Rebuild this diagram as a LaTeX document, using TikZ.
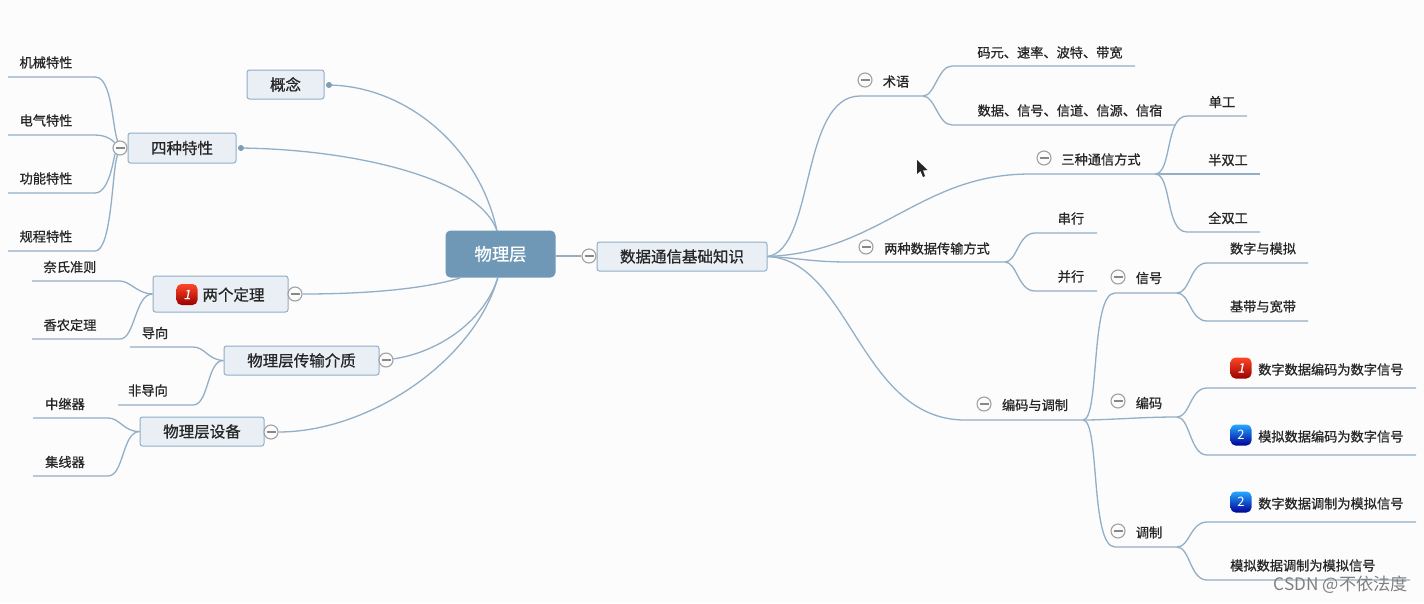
\documentclass[tikz,border=0pt]{standalone}
\usepackage{fontspec}
\setmainfont{Noto Sans CJK SC}[FakeBold=0.8]
\newfontfamily\plainfont{Noto Sans CJK SC}
\newfontfamily\badgefont{Noto Sans CJK SC}[FakeBold=0.5,FakeSlant=0.2]
\definecolor{paper}{HTML}{FCFCFD}
\definecolor{linkblue}{HTML}{93AFC6}
\definecolor{boxfill}{HTML}{E9EFF5}
\definecolor{boxline}{HTML}{8FAEC6}
\definecolor{rootblue}{HTML}{6E98B5}
\definecolor{foldgray}{HTML}{A0A0A0}
\newcommand{\foldmark}{\textcolor{foldgray!85!black}{\rule{9pt}{1.2pt}}}
\tikzset{
    link/.style={draw=linkblue,line width=1.3pt},
    topic/.style={draw=boxline,fill=boxfill,rounded corners=2.5pt,line width=1pt,inner sep=0pt,font=\fontsize{15.5}{17}\selectfont,text=black!85},
    rootbox/.style={fill=rootblue,rounded corners=5pt,inner sep=0pt,font=\fontsize{17.3}{19}\selectfont,text=white},
    leaf/.style={inner sep=0pt,font=\fontsize{13.2}{15}\selectfont,text=black!85},
    fold/.style={circle,draw=foldgray,fill=paper,line width=1.1pt,minimum size=14pt,inner sep=0pt},
    pin/.style={circle,fill=boxline!90!black,minimum size=6pt,inner sep=0pt},
    redbadge/.style={rounded corners=5pt,minimum size=21pt,inner sep=0pt,top color=red!70!orange!85!white,bottom color=red!60!black,text=white,font=\fontsize{13}{14}\badgefont},
    bluebadge/.style={rounded corners=5pt,minimum size=21pt,inner sep=0pt,top color=blue!40!cyan!85!white,bottom color=blue!60!black,text=white,font=\fontsize{13}{14}\plainfont}
}
\begin{document}
\begin{tikzpicture}[x=1pt,y=-1pt]
    \useasboundingbox[fill=paper] (0,0) rectangle (1424,603);

    % left side
    \node[rootbox,minimum width=110pt,minimum height=47pt] (root) at (500.5,254) {物理层};
    \coordinate (roottop) at (497,231);
    \coordinate (rootbottom) at (498,277);
    \coordinate (rootlaws) at (460,278);
    \node[topic,minimum width=77pt,minimum height=29pt] (concept) at (285.5,84.5) {概念};
    \node[pin] (conceptpin) at (329,85) {};
    \node[topic,minimum width=108pt,minimum height=30pt] (traits) at (182,148) {四种特性};
    \node[pin] (traitspin) at (241,148) {};
    \node[topic,minimum width=135pt,minimum height=36pt,text depth=0pt] (laws) at (220.5,294) {\hspace{26pt}两个定理};
    \node[redbadge] (lawsbadge) at (187,294.5) {1};
    \node[topic,minimum width=155pt,minimum height=29pt] (media) at (301.5,360.5) {物理层传输介质};
    \node[topic,minimum width=124pt,minimum height=29pt] (devices) at (202,431.5) {物理层设备};

    \draw[link] (conceptpin) .. controls (410,88) and (480,150) .. (roottop);
    \draw[link] (traitspin) .. controls (360,150) and (480,180) .. (roottop);
    \node[fold] (lawsfold) at (295,294) {\foldmark};
    \node[fold] (mediafold) at (386,360) {\foldmark};
    \node[fold] (devicesfold) at (271,432) {\foldmark};
    \draw[link] (lawsfold) .. controls (360,294) and (420,290) .. (rootlaws);
    \draw[link] (mediafold) .. controls (440,352) and (485,320) .. (rootbottom);
    \draw[link] (devicesfold) .. controls (370,432) and (475,360) .. (rootbottom);

    \node[fold] (traitsfold) at (120,148) {\foldmark};
    \node[leaf] (mech) at (46,62.5) {机械特性};
    \node[leaf] (elec) at (46,120.5) {电气特性};
    \node[leaf] (func) at (46,178.5) {功能特性};
    \node[leaf] (proc) at (46,236.5) {规程特性};
    \coordinate (mechend) at (8,77);
    \coordinate (elecend) at (8,135);
    \coordinate (funcend) at (8,193);
    \coordinate (procend) at (8,251);
    \draw[link] (traitsfold) .. controls (112,125) and (112,77) .. (95,77) -- (mechend);
    \draw[link] (traitsfold) .. controls (114,142) and (108,135) .. (95,135) -- (elecend);
    \draw[link] (traitsfold) .. controls (114,155) and (110,193) .. (95,193) -- (funcend);
    \draw[link] (traitsfold) .. controls (112,170) and (112,251) .. (95,251) -- (procend);

    \node[leaf] (nyquist) at (70,267) {奈氏准则};
    \node[leaf] (shannon) at (70,325) {香农定理};
    \coordinate (nyquistend) at (32,281);
    \coordinate (shannonend) at (32,339);
    \draw[link] (laws.west) .. controls (138,294) and (130,281) .. (120,281) -- (nyquistend);
    \draw[link] (laws.west) .. controls (135,294) and (135,339) .. (120,339) -- (shannonend);

    \node[leaf] (guided) at (155,333) {导向};
    \node[leaf] (unguided) at (148,390.5) {非导向};
    \coordinate (guidedend) at (130,347);
    \coordinate (unguidedend) at (118,405);
    \draw[link] (media.west) .. controls (208,360) and (205,347) .. (193,347) -- (guidedend);
    \draw[link] (media.west) .. controls (207,360) and (209,405) .. (193,405) -- (unguidedend);

    \node[leaf] (repeater) at (65,404) {中继器};
    \node[leaf] (hub) at (65,462) {集线器};
    \coordinate (repeaterend) at (33,418);
    \coordinate (hubend) at (33,476);
    \draw[link] (devices.west) .. controls (124,432) and (120,418) .. (108,418) -- (repeaterend);
    \draw[link] (devices.west) .. controls (122,432) and (124,476) .. (108,476) -- (hubend);

    % right side
    \node[topic,minimum width=170pt,minimum height=29pt] (basics) at (682,256.5) {数据通信基础知识};
    \node[fold] (basicsfold) at (589,256) {\foldmark};
    \draw[link] (root.east |- basicsfold) -- (basicsfold);

    \node[leaf] (terms) at (896,81.5) {术语};
    \node[fold] (termsfold) at (865,80) {\foldmark};
    \coordinate (termsjoin) at (923,96);
    \draw[link] (basics.east) .. controls (815,250) and (800,96) .. (860,96) -- (termsjoin);
    \node[leaf] (symbol) at (1050,52.5) {码元、速率、波特、带宽};
    \node[leaf] (datasig) at (1070,110.5) {数据、信号、信道、信源、信宿};
    \coordinate (symbolend) at (1135,66);
    \coordinate (datasigend) at (1175,125);
    \draw[link] (termsjoin) .. controls (935,96) and (938,66) .. (952,66) -- (symbolend);
    \draw[link] (termsjoin) .. controls (935,96) and (938,125) .. (952,125) -- (datasigend);

    \node[leaf] (modes) at (1101,159.5) {三种通信方式};
    \node[fold] (modesfold) at (1044,158) {\foldmark};
    \coordinate (modesjoin) at (1155,174);
    \draw[link] (basics.east) .. controls (880,252) and (920,174) .. (1030,174) -- (modesjoin);
    \node[leaf] (simplex) at (1222,102) {单工};
    \node[leaf] (halfdup) at (1228,160) {半双工};
    \node[leaf] (fulldup) at (1228,218) {全双工};
    \coordinate (simplexend) at (1247,116);
    \coordinate (halfdupend) at (1260,174);
    \coordinate (fulldupend) at (1260,232);
    \draw[link] (modesjoin) .. controls (1172,174) and (1165,116) .. (1187,116) -- (simplexend);
    \draw[link] (modesjoin) .. controls (1170,174) and (1180,174) .. (1190,174) -- (halfdupend);
    \draw[link] (modesjoin) .. controls (1172,174) and (1165,232) .. (1187,232) -- (fulldupend);

    \node[leaf] (transfer) at (937,248.5) {两种数据传输方式};
    \node[fold] (transferfold) at (866,247) {\foldmark};
    \coordinate (transferjoin) at (1005,262);
    \draw[link] (basics.east) .. controls (800,258) and (810,262) .. (850,262) -- (transferjoin);
    \node[leaf] (serial) at (1071,218.5) {串行};
    \node[leaf] (parallel) at (1071,276.5) {并行};
    \coordinate (serialend) at (1097,233);
    \coordinate (parallelend) at (1097,291);
    \draw[link] (transferjoin) .. controls (1017,262) and (1018,233) .. (1035,233) -- (serialend);
    \draw[link] (transferjoin) .. controls (1017,262) and (1018,291) .. (1035,291) -- (parallelend);

    \node[leaf] (coding) at (1035,405) {编码与调制};
    \node[fold] (codingfold) at (984,404) {\foldmark};
    \coordinate (codingjoin) at (1083,420);
    \draw[link] (basics.east) .. controls (850,260) and (860,420) .. (965,420) -- (codingjoin);

    \node[leaf] (signal) at (1149,278) {信号};
    \node[fold] (signalfold) at (1118,277) {\foldmark};
    \coordinate (signaljoin) at (1177,293);
    \draw[link] (codingjoin) .. controls (1100,420) and (1090,293) .. (1115,293) -- (signaljoin);
    \node[leaf] (digana) at (1263,248.5) {数字与模拟};
    \node[leaf] (baseband) at (1263,306.5) {基带与宽带};
    \coordinate (diganaend) at (1308,263);
    \coordinate (basebandend) at (1308,321);
    \draw[link] (signaljoin) .. controls (1190,293) and (1190,263) .. (1207,263) -- (diganaend);
    \draw[link] (signaljoin) .. controls (1190,293) and (1190,321) .. (1207,321) -- (basebandend);

    \node[leaf] (encode) at (1149,403) {编码};
    \node[fold] (encodefold) at (1118,401) {\foldmark};
    \coordinate (encodejoin) at (1177,417);
    \draw[link] (codingjoin) .. controls (1110,420) and (1140,417) .. (encodejoin);
    \node[redbadge] (ddbadge) at (1241,368) {1};
    \node[bluebadge] (adbadge) at (1241,435) {2};
    \node[leaf,anchor=west] (dd) at (1258,369.5) {数字数据编码为数字信号};
    \node[leaf,anchor=west] (ad) at (1258,436.5) {模拟数据编码为数字信号};
    \coordinate (ddend) at (1416,388);
    \coordinate (adend) at (1416,455);
    \draw[link] (encodejoin) .. controls (1190,417) and (1190,388) .. (1207,388) -- (ddend);
    \draw[link] (encodejoin) .. controls (1190,417) and (1190,455) .. (1207,455) -- (adend);

    \node[leaf] (modulate) at (1149,532.5) {调制};
    \node[fold] (modulatefold) at (1118,531) {\foldmark};
    \coordinate (modulatejoin) at (1177,547);
    \draw[link] (codingjoin) .. controls (1100,420) and (1090,547) .. (1115,547) -- (modulatejoin);
    \node[bluebadge] (dabadge) at (1241,502) {2};
    \node[leaf,anchor=west] (da) at (1258,503.5) {数字数据调制为模拟信号};
    \node[leaf,anchor=west] (aa) at (1230,565.5) {模拟数据调制为模拟信号};
    \coordinate (daend) at (1416,522);
    \coordinate (aaend) at (1410,580);
    \draw[link] (modulatejoin) .. controls (1190,547) and (1190,522) .. (1207,522) -- (daend);
    \draw[link] (modulatejoin) .. controls (1190,547) and (1190,580) .. (1207,580) -- (aaend);

    % cursor and watermark
    \fill[black!85] (917,160) -- (917,174) -- (920.5,171) -- (923,177) -- (925,176) -- (923,170.5) -- (927.5,170) -- cycle;
    \node[inner sep=0pt,anchor=east,text=black!50,font=\fontsize{17.2}{19}\plainfont] (mark) at (1408,585) {CSDN @不依法度};
\end{tikzpicture}
\end{document}
